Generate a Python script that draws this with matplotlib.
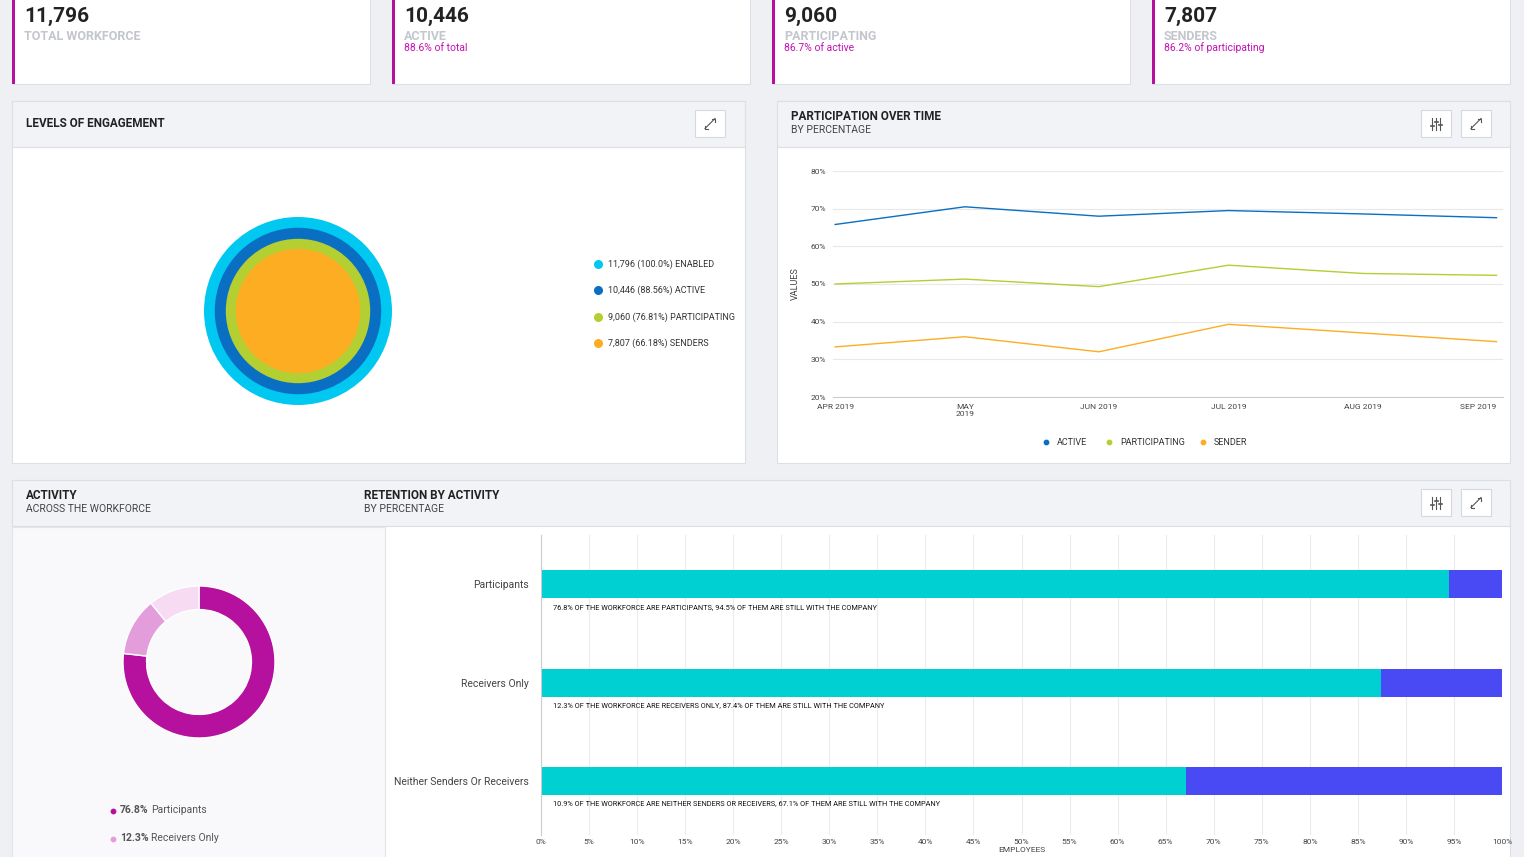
import matplotlib
matplotlib.use("Agg")
import matplotlib.pyplot as plt
from matplotlib.patches import Rectangle, Circle
import numpy as np
import datetime as dt

plt.rcParams['font.family'] = ['Roboto', 'DejaVu Sans']

# ---- data ----
kpi_values = ["11,796", "10,446", "9,060", "7,807"]
kpi_labels = ["TOTAL WORKFORCE", "ACTIVE", "PARTICIPATING", "SENDERS"]
kpi_subs = ["", "88.6% of total", "86.7% of active", "86.2% of participating"]

eng_labels = ["ENABLED", "ACTIVE", "PARTICIPATING", "SENDERS"]
eng_counts = [11796, 10446, 9060, 7807]
eng_pct_txt = ["100.0%", "88.56%", "76.81%", "66.18%"]
eng_pct = [100.0, 88.56, 76.81, 66.18]
eng_colors = ["#00c8f0", "#0a6fc2", "#b3cf32", "#fdad22"]

months = ["2019-04-01", "2019-05-01", "2019-06-01", "2019-07-01", "2019-08-01", "2019-09-01"]
month_labels = ["APR 2019", "MAY\n2019", "JUN 2019", "JUL 2019", "AUG 2019", "SEP 2019"]
active = [65.8, 70.5, 68.0, 69.5, 68.6, 67.6]
participating = [50.0, 51.3, 49.3, 55.0, 52.8, 52.3]
sender = [33.3, 36.0, 32.0, 39.3, 37.0, 34.7]

act_labels = ["Participants", "Receivers Only", "Neither Senders Or Receivers"]
act_share = [76.8, 12.3, 10.9]
act_colors = ["#b5109e", "#e39ddb", "#f6dbf2"]
retained = [94.5, 87.4, 67.1]
notes = ["76.8% OF THE WORKFORCE ARE PARTICIPANTS, 94.5% OF THEM ARE STILL WITH THE COMPANY",
         "12.3% OF THE WORKFORCE ARE RECEIVERS ONLY, 87.4% OF THEM ARE STILL WITH THE COMPANY",
         "10.9% OF THE WORKFORCE ARE NEITHER SENDERS OR RECEIVERS, 67.1% OF THEM ARE STILL WITH THE COMPANY"]

W, H = 1524, 857
fig = plt.figure(figsize=(W/100, H/100), dpi=100)
fig.patch.set_facecolor("#eef0f4")
bg = fig.add_axes([0, 0, 1, 1])
bg.set_xlim(0, W); bg.set_ylim(H, 0); bg.axis("off")

def axpx(x0, y0, x1, y1):
    return fig.add_axes([x0/W, 1-y1/H, (x1-x0)/W, (y1-y0)/H])

def rect(x0, y0, x1, y1, fc, ec="none", lw=0.8):
    bg.add_patch(Rectangle((x0, y0), x1-x0, y1-y0, fc=fc, ec=ec, lw=lw))

def button(x0, y0, kind="expand"):
    rect(x0, y0, x0+30, y0+27, "white", "#d5d8de")
    cx, cy = x0+15, y0+13.5
    c = "#555"
    if kind == "expand":
        bg.plot([cx-5, cx+5], [cy+5, cy-5], color=c, lw=0.8)
        bg.plot([cx+2, cx+5, cx+5], [cy-5, cy-5, cy-2], color=c, lw=0.8)
        bg.plot([cx-5, cx-5, cx-2], [cy+2, cy+5, cy+5], color=c, lw=0.8)
    else:
        for dx, ky in [(-4, 2), (0, -2), (4, 1)]:
            bg.plot([cx+dx, cx+dx], [cy-6, cy+6], color=c, lw=0.8)
            bg.plot([cx+dx-1.5, cx+dx+1.5], [cy+ky, cy+ky], color=c, lw=1.2)

# KPI cards
for i, xs in enumerate([12, 392, 772, 1152]):
    rect(xs, -5, xs+358, 84, "white", "#dcdfe4")
    rect(xs, -5, xs+3, 84, "#b5109e")
    bg.text(xs+12, 16, kpi_values[i], fontsize=15, fontweight="bold", color="#222", va="center")
    bg.text(xs+12, 36, kpi_labels[i], fontsize=9, fontweight="bold", color="#c3c6cd", va="center")
    if kpi_subs[i]:
        bg.text(xs+12, 48, kpi_subs[i], fontsize=7.5, color="#c511b4", va="center")

# Panels
for (x0, x1) in [(12, 745), (777, 1510)]:
    rect(x0, 101, x1, 463, "white", "#dcdfe4")
    rect(x0, 101, x1, 147, "#f2f3f7", "#dcdfe4")
rect(12, 480, 1510, 870, "white", "#dcdfe4")
rect(12, 480, 1510, 526, "#f2f3f7", "#dcdfe4")
rect(12, 527, 385, 870, "#f9f9fb", "#e3e5ea")

bg.text(26, 123, "LEVELS OF ENGAGEMENT", fontsize=8.5, fontweight="bold", color="#222", va="center")
bg.text(791, 116, "PARTICIPATION OVER TIME", fontsize=8.5, fontweight="bold", color="#222", va="center")
bg.text(791, 130, "BY PERCENTAGE", fontsize=7.5, color="#444", va="center")
bg.text(26, 495, "ACTIVITY", fontsize=8.5, fontweight="bold", color="#222", va="center")
bg.text(26, 509, "ACROSS THE WORKFORCE", fontsize=7.5, color="#444", va="center")
bg.text(364, 495, "RETENTION BY ACTIVITY", fontsize=8.5, fontweight="bold", color="#222", va="center")
bg.text(364, 509, "BY PERCENTAGE", fontsize=7.5, color="#444", va="center")
button(695, 110); button(1421, 110, "filter"); button(1461, 110)
button(1421, 489, "filter"); button(1461, 489)

# Concentric circles
ac = axpx(204, 217, 392, 405)
ac.set_xlim(-1, 1); ac.set_ylim(-1, 1); ac.axis("off")
for p, c in zip(eng_pct, eng_colors):
    ac.add_patch(Circle((0, 0), p/100, fc=c, ec="none"))
for i, (n, p, l, c) in enumerate(zip(eng_counts, eng_pct_txt, eng_labels, eng_colors)):
    y = 264 + i*26.4
    bg.scatter([598], [y], s=30, color=c)
    bg.text(608, y, f"{n:,} ({p}) {l}", fontsize=6.5, color="#333", va="center")

# Line chart
al = axpx(833, 171, 1503, 397)
d = [dt.datetime.strptime(m, "%Y-%m-%d") for m in months]
for s, c in [(active, "#0a6fc2"), (participating, "#b3cf32"), (sender, "#fdad22")]:
    al.plot(d, s, color=c, lw=1)
al.set_xlim(d[0] - dt.timedelta(days=0.5), d[-1] + dt.timedelta(days=1.5))
al.set_ylim(20, 80)
al.set_yticks(range(20, 81, 10))
al.set_yticklabels([f"{v}%" for v in range(20, 81, 10)], fontsize=6, color="#444")
al.set_xticks(d)
al.set_xticklabels(month_labels, fontsize=6, color="#444")
al.get_xticklabels()[-1].set_ha("right")
al.get_xticklabels()[-1].set_x(0)
al.grid(axis="y", color="#e8e8e8", lw=0.8)
for s in ["top", "right", "left"]:
    al.spines[s].set_visible(False)
al.spines["bottom"].set_color("#ccc")
al.tick_params(length=0, pad=5)
al.set_ylabel("VALUES", fontsize=6.5, color="#444", labelpad=8)
for lab, c, x in [("ACTIVE", "#0a6fc2", 1046), ("PARTICIPATING", "#b3cf32", 1109), ("SENDER", "#fdad22", 1203)]:
    bg.scatter([x], [442], s=10, color=c)
    bg.text(x+11, 442, lab, fontsize=6.5, color="#333", va="center")

# Donut
ad = axpx(123, 586, 275, 738)
ad.pie(act_share, colors=act_colors, startangle=90, counterclock=False, radius=1,
       wedgeprops=dict(width=0.31, edgecolor="white", linewidth=1))
ad.set_xlim(-1, 1); ad.set_ylim(-1, 1); ad.set_aspect("equal")
for i in range(2):
    y = 810 + i*28
    bg.scatter([113], [y+1], s=10, color=act_colors[i])
    bg.text(120, y, f"{act_share[i]}%", fontsize=7.5, fontweight="bold", color="#555", va="center")
    bg.text(151, y, act_labels[i], fontsize=7.5, color="#555", va="center")

# Bar chart
ab = axpx(541, 535, 1502, 835)
yy = np.arange(len(act_labels))
ab.barh(yy, retained, height=0.285, color="#00d0d2")
ab.barh(yy, [100 - r for r in retained], left=retained, height=0.285, color="#4a4af5")
ab.set_ylim(2.55, -0.5)
ab.set_xlim(0, 100)
ab.set_xticks(range(0, 101, 5))
ab.set_xticklabels([f"{v}%" for v in range(0, 101, 5)], fontsize=6, color="#444")
ab.set_yticks(yy)
ab.set_yticklabels(act_labels, fontsize=7.5, color="#444")
ab.grid(axis="x", color="#ececec", lw=0.8)
ab.set_axisbelow(True)
for s in ["top", "right"]:
    ab.spines[s].set_visible(False)
ab.spines["left"].set_color("#ccc"); ab.spines["bottom"].set_visible(False)
ab.tick_params(axis="y", length=0, pad=9)
ab.tick_params(axis="x", length=0, pad=3)
for i, n in enumerate(notes):
    ab.text(1.2, i + 0.235, n, fontsize=5.3, color="#111", va="center")
ab.set_xlabel("EMPLOYEES", fontsize=6, color="#444", labelpad=1)

fig.savefig("out.png", dpi=100, facecolor=fig.get_facecolor())
